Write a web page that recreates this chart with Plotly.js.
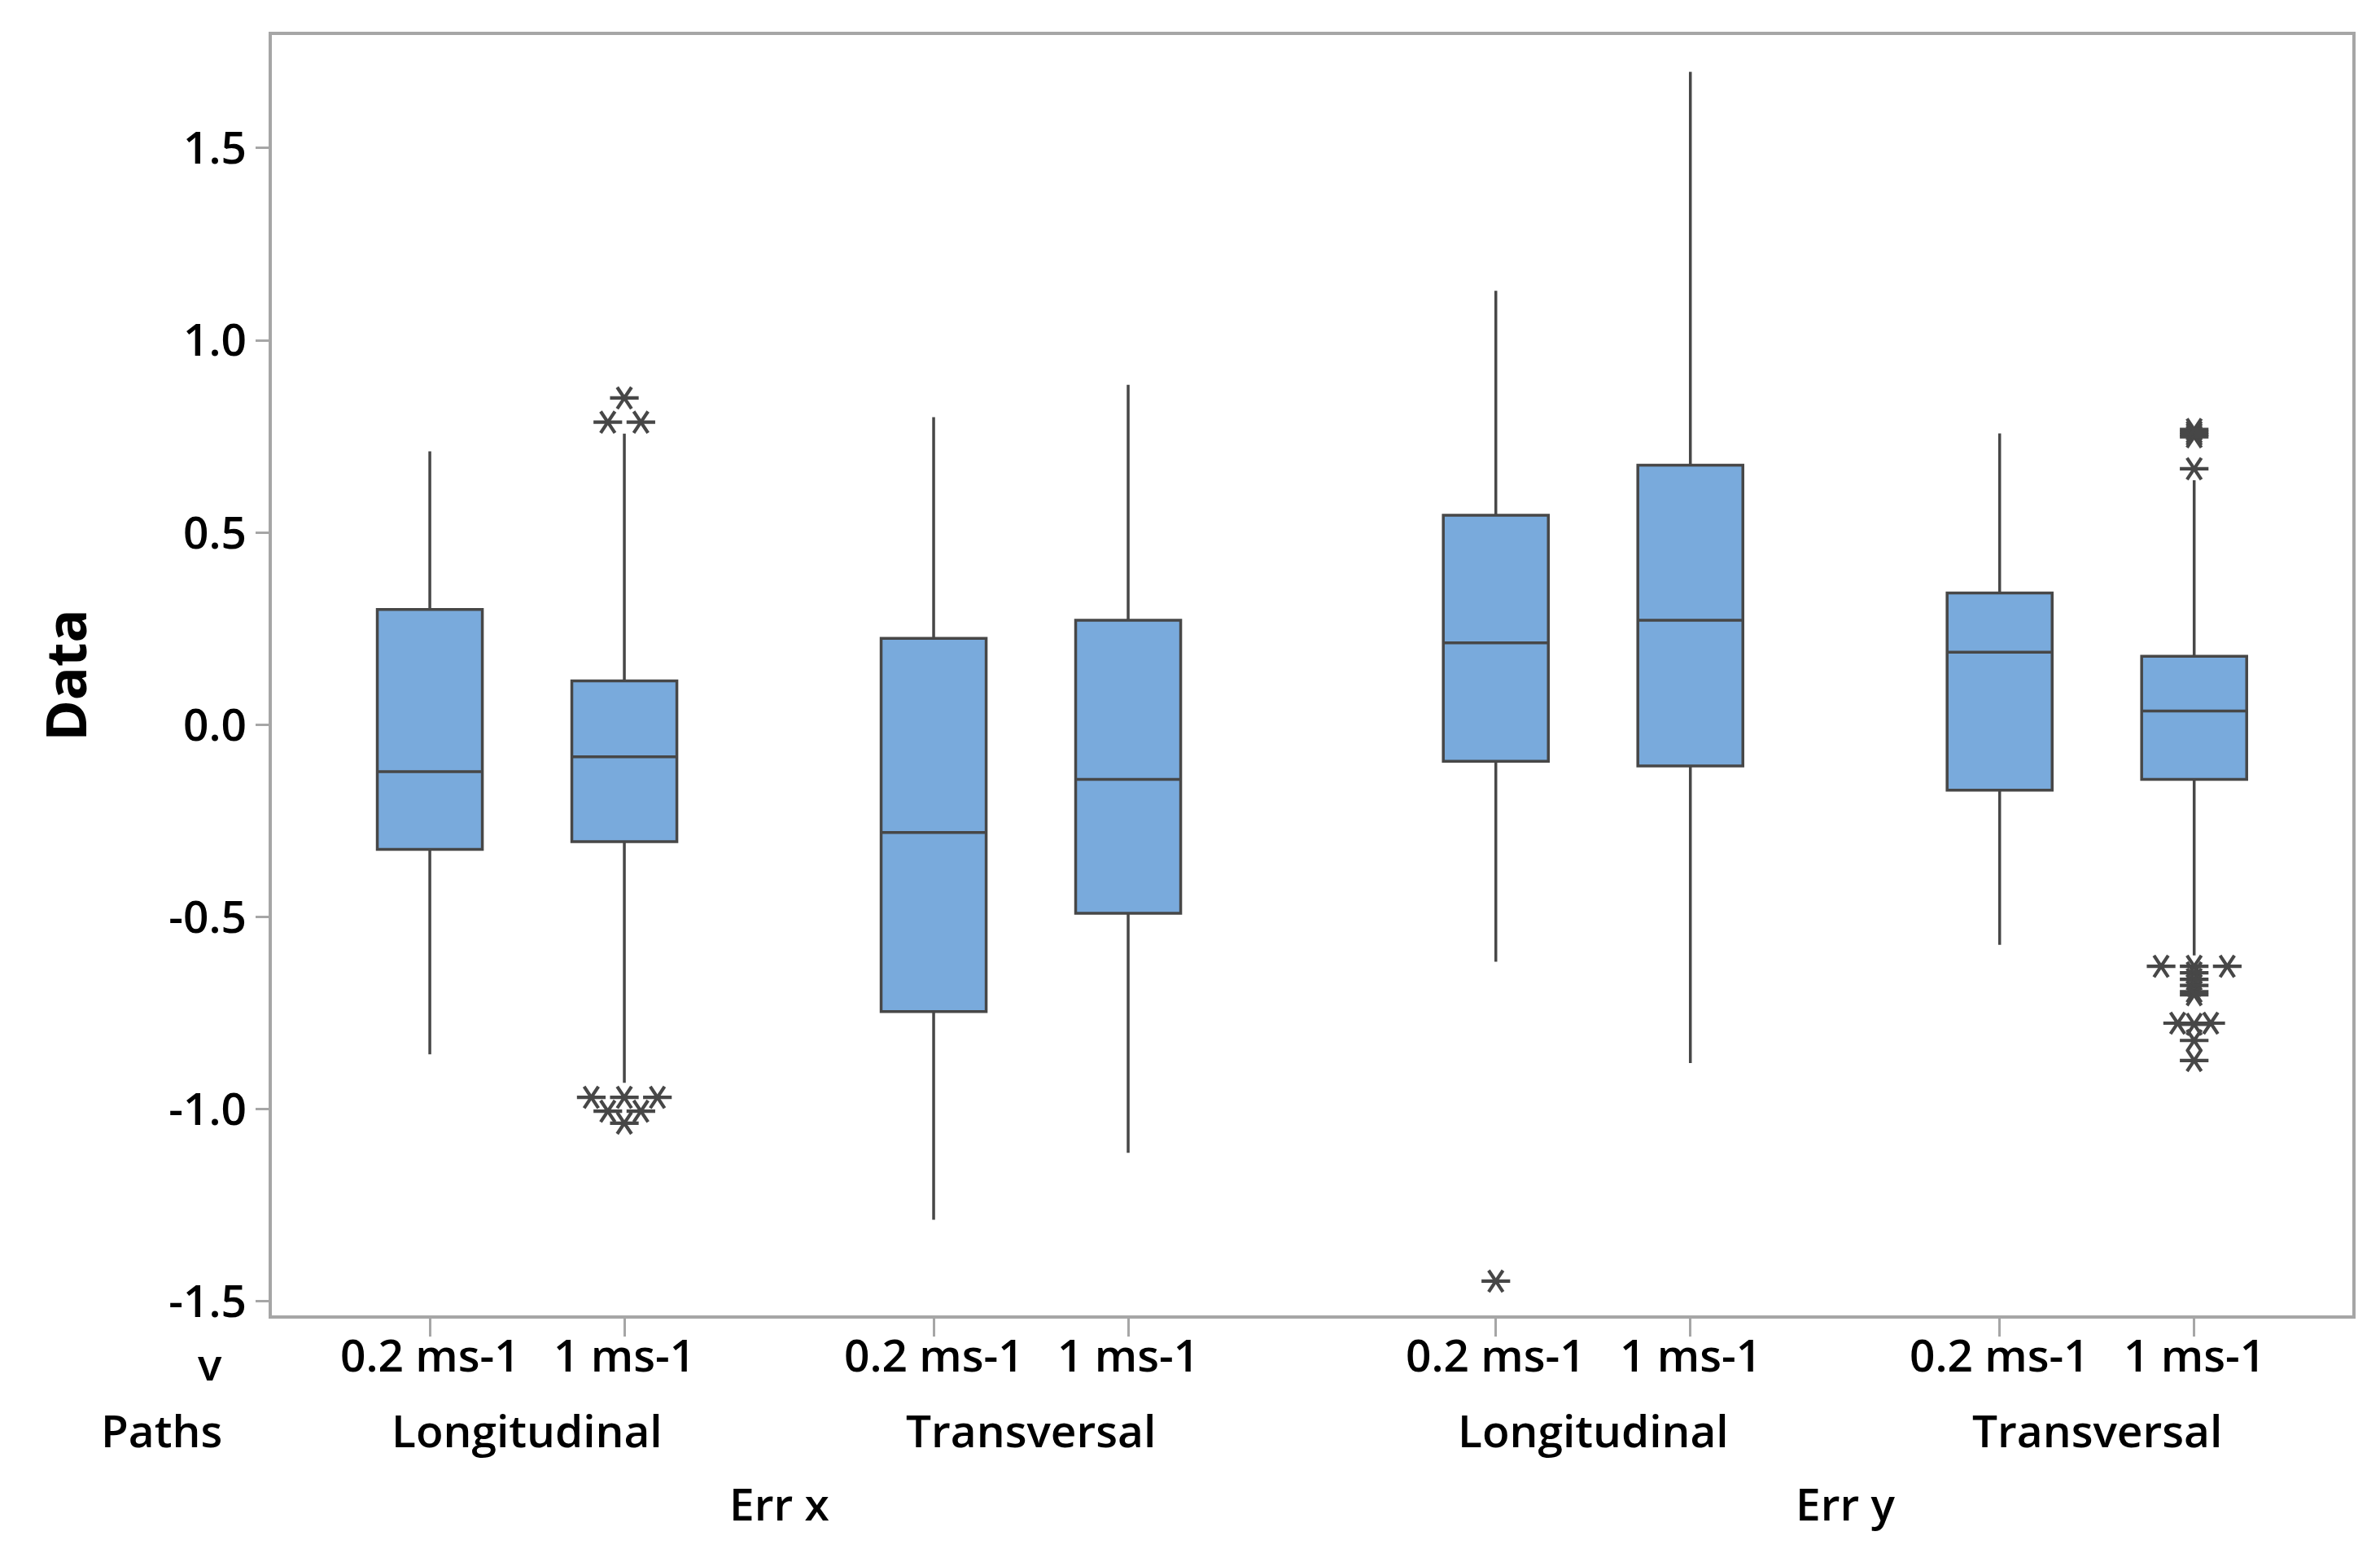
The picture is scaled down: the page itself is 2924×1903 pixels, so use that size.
<!DOCTYPE html>
<html>
<head>
<meta charset="utf-8">
<script src="https://cdn.plot.ly/plotly-3.0.1.min.js"></script>
<style>html,body{margin:0;padding:0;background:#fff;}#chart{width:2924px;height:1903px;}</style>
</head>
<body>
<div id="chart"></div>
<script>
// ---- Data ----
const errs = ["Err x", "Err y"];
const paths = ["Longitudinal", "Transversal"];
const speeds = ["0.2 ms-1", "1 ms-1"];

// box order: ErrX-Long-0.2, ErrX-Long-1, ErrX-Trans-0.2, ErrX-Trans-1, ErrY-Long-0.2, ErrY-Long-1, ErrY-Trans-0.2, ErrY-Trans-1
const lowerWhisker = [-0.857, -0.931, -1.287, -1.113, -0.616, -0.880, -0.572, -0.600];
const q1           = [-0.324, -0.304, -0.746, -0.490, -0.095, -0.107, -0.170, -0.142];
const median       = [-0.122, -0.083, -0.280, -0.142,  0.213,  0.272,  0.189,  0.036];
const q3           = [ 0.300,  0.114,  0.225,  0.272,  0.545,  0.675,  0.343,  0.178];
const upperWhisker = [ 0.711,  0.757,  0.800,  0.884,  1.129,  1.698,  0.758,  0.636];

const outliers = [
  [],
  [0.850, 0.787, 0.787, -0.969, -0.969, -0.969, -1.005, -1.005, -1.036],
  [],
  [],
  [-1.447],
  [],
  [],
  [0.749, 0.755, 0.761, 0.768, 0.666,
   -0.628, -0.628, -0.628, -0.645, -0.662, -0.678, -0.694, -0.702,
   -0.776, -0.776, -0.779, -0.821, -0.873]
];

const yTickVals = [-1.5, -1.0, -0.5, 0.0, 0.5, 1.0, 1.5];
const yTickText = ["-1.5", "-1.0", "-0.5", "0.0", "0.5", "1.0", "1.5"];

// ---- Layout positions (grouped spacing like Minitab) ----
const pathGap = 0.59, errGap = 0.3;
const positions = [], tickText = [], pathMid = [], errMid = [];
let pos = 0;
errs.forEach((e, ei) => {
  const errStart = pos;
  paths.forEach((p, pi) => {
    const pStart = pos;
    speeds.forEach(s => { positions.push(pos); tickText.push(s); pos += 1; });
    pathMid.push({text: p, x: (pStart + pos - 1) / 2});
    if (pi < paths.length - 1) pos += pathGap;
  });
  errMid.push({text: e, x: (errStart + pos - 1) / 2});
  pos += pathGap + errGap;
});

const lineCol = '#474747';
const fillCol = '#79aadc';
const frameCol = '#a6a6a6';
const fontFam = 'Open Sans, sans-serif';
const txtFont = {size: 55, color: '#000', family: fontFam, weight: 600};

const traces = [{
  type: 'box',
  x: positions,
  q1: q1, median: median, q3: q3,
  lowerfence: lowerWhisker, upperfence: upperWhisker,
  width: 0.54,
  whiskerwidth: 0,
  boxpoints: false,
  fillcolor: fillCol,
  line: {color: lineCol, width: 3.5},
  hoverinfo: 'skip',
  showlegend: false
}];

// outliers with horizontal dodging of equal values
const dodge = 0.17;
const ox = [], oy = [];
outliers.forEach((vals, i) => {
  const groups = {};
  vals.forEach(v => { const k = v.toFixed(3); (groups[k] = groups[k] || []).push(v); });
  Object.values(groups).forEach(g => {
    g.forEach((v, j) => { ox.push(positions[i] + (j - (g.length - 1) / 2) * dodge); oy.push(v); });
  });
});
['y-left-open', 'y-right-open'].forEach(sym => {
  traces.push({
    type: 'scatter', mode: 'markers', x: ox, y: oy,
    marker: {symbol: sym, size: 22, color: lineCol, line: {color: lineCol, width: 4.2}},
    hoverinfo: 'skip', showlegend: false
  });
});

const rowY = [-0.0305, -0.0893, -0.1465];
const annotations = [];
positions.forEach((p, i) => annotations.push({x: p, xref: 'x', y: rowY[0], yref: 'paper', text: tickText[i], showarrow: false, xanchor: 'center', yanchor: 'middle', font: txtFont}));
pathMid.forEach(a => annotations.push({x: a.x, xref: 'x', y: rowY[1], yref: 'paper', text: a.text, showarrow: false, xanchor: 'center', yanchor: 'middle', font: txtFont}));
errMid.forEach(a => annotations.push({x: a.x, xref: 'x', y: rowY[2], yref: 'paper', text: a.text, showarrow: false, xanchor: 'center', yanchor: 'middle', font: txtFont}));
annotations.push({x: -0.0231, xref: 'paper', y: -0.037, yref: 'paper', text: 'v', showarrow: false, xanchor: 'right', yanchor: 'middle', font: txtFont});
annotations.push({x: -0.0231, xref: 'paper', y: rowY[1], yref: 'paper', text: 'Paths', showarrow: false, xanchor: 'right', yanchor: 'middle', font: txtFont});

const layout = {
  width: 2924, height: 1903,
  margin: {l: 334, r: 34, t: 43, b: 287},
  paper_bgcolor: '#ffffff', plot_bgcolor: '#ffffff',
  font: {family: fontFam, color: '#000'},
  showlegend: false,
  xaxis: {
    range: [-0.812, 9.883],
    tickmode: 'array', tickvals: positions,
    showticklabels: false,
    ticks: 'outside', ticklen: 22, tickwidth: 3, tickcolor: frameCol,
    showline: true, mirror: true, linecolor: frameCol, linewidth: 4,
    showgrid: false, zeroline: false, fixedrange: true
  },
  yaxis: {
    range: [-1.536, 1.794],
    tickmode: 'array', tickvals: yTickVals, ticktext: yTickText,
    ticks: 'outside', ticklen: 16, tickwidth: 3, tickcolor: frameCol,
    tickfont: txtFont,
    showline: true, mirror: true, linecolor: frameCol, linewidth: 4,
    showgrid: false, zeroline: false, fixedrange: true,
    title: {text: 'Data', standoff: 80, font: {size: 68, color: '#000', family: fontFam, weight: 'bold'}}
  },
  annotations: annotations
};

Plotly.newPlot('chart', traces, layout, {staticPlot: true, displayModeBar: false});
</script>
</body>
</html>
